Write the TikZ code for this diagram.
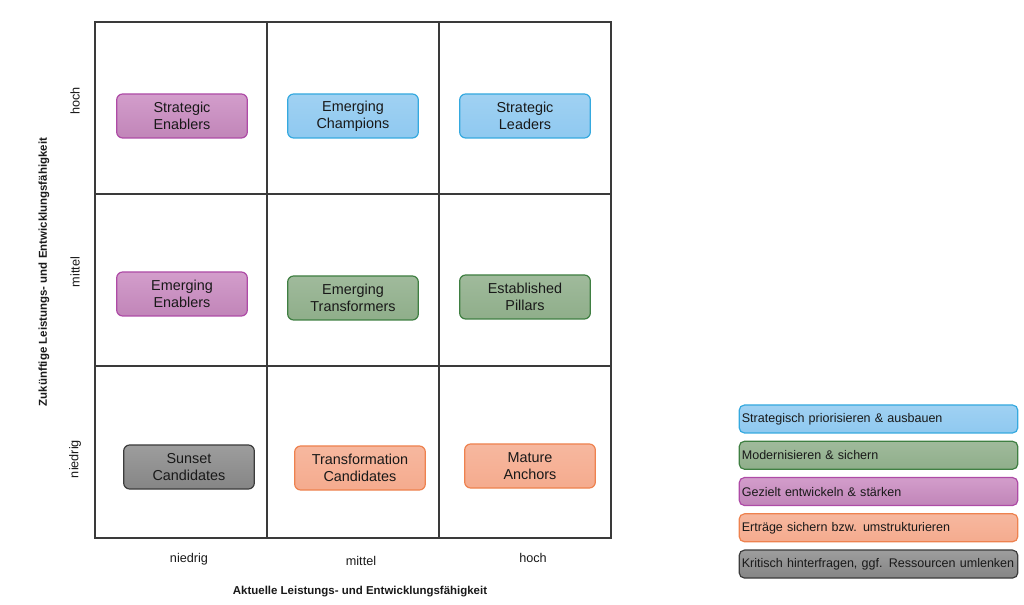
\documentclass[tikz,border=0pt]{standalone}
\usepackage{fontspec}
\setmainfont{Liberation Sans}
\usepackage{tikz}
\usetikzlibrary{positioning}
\definecolor{stratblue}{HTML}{8FC9F0}
\definecolor{stratblueline}{HTML}{35A9DF}
\definecolor{modgreen}{HTML}{8FAE8A}
\definecolor{modgreenline}{HTML}{3F7F42}
\definecolor{devpurple}{HTML}{CB8CC2}
\definecolor{devpurpleline}{HTML}{AE4BA6}
\definecolor{earnorange}{HTML}{F5AB8E}
\definecolor{earnorangeline}{HTML}{EE824F}
\definecolor{critgray}{HTML}{8C8C8C}
\definecolor{critgrayline}{HTML}{3C3C3C}
\definecolor{gridline}{HTML}{3A3A3A}
\tikzset{
    every node/.style={font=\fontsize{10.8}{12.5}\selectfont,text=black!90},
    field/.style={rounded corners=4.5pt,line width=0.9pt,minimum width=98pt,minimum height=33pt,align=center,inner sep=2pt},
    legend/.style={rounded corners=4pt,line width=0.9pt,minimum width=209pt,minimum height=21pt,inner sep=1.5pt,text width=205pt,align=left,font=\fontsize{9.4}{11}\selectfont},
    blueb/.style={draw=stratblueline,top color=stratblue!85!white,bottom color=stratblue},
    greenb/.style={draw=modgreenline,top color=modgreen!85!white,bottom color=modgreen},
    purpleb/.style={draw=devpurpleline,top color=devpurple!85!white,bottom color=devpurple!95!black},
    orangeb/.style={draw=earnorangeline,top color=earnorange!85!white,bottom color=earnorange},
    grayb/.style={draw=critgrayline,top color=critgray!85!white,bottom color=critgray!95!black},
    tick/.style={font=\fontsize{9.5}{11}\selectfont},
    axistitle/.style={font=\bfseries\fontsize{8.6}{10}\selectfont}
}
\begin{document}
\begin{tikzpicture}[x=0.75pt,y=-0.75pt]
\useasboundingbox (0,0) rectangle (1024,605);
% matrix grid
\draw[gridline,line width=1pt] (95,22) rectangle (611,538);
\foreach \x in {267,439}
    \draw[gridline,line width=1pt] (\x,22) -- (\x,538);
\foreach \y in {194,366}
    \draw[gridline,line width=1pt] (95,\y) -- (611,\y);

% fields
\node[field,purpleb] (stratenablers) at (182,116) {Strategic\\Enablers};
\node[field,blueb] (emchampions) at (353,116) {Emerging\\Champions};
\node[field,blueb] (stratleaders) at (525,116) {Strategic\\Leaders};
\node[field,purpleb] (emenablers) at (182,294) {Emerging\\Enablers};
\node[field,greenb] (emtransformers) at (353,298) {Emerging\\Transformers};
\node[field,greenb] (estpillars) at (525,297) {Established\\Pillars};
\node[field,grayb] (sunset) at (189,467) {Sunset\\Candidates};
\node[field,orangeb] (transcand) at (360,468) {Transformation\\Candidates};
\node[field,orangeb] (mature) at (530,466) {Mature\\Anchors};

% axes
\node[tick] (xlow) at (189,559) {niedrig};
\node[tick] (xmid) at (361,561) {mittel};
\node[tick] (xhigh) at (533,558) {hoch};
\node[axistitle] (xtitle) at (360,592) {Aktuelle Leistungs- und Entwicklungsfähigkeit};
\node[tick,rotate=90] (yhigh) at (75,101) {hoch};
\node[tick,rotate=90] (ymid) at (75,272) {mittel};
\node[tick,rotate=90] (ylow) at (75,459) {niedrig};
\node[axistitle,rotate=90] (ytitle) at (44,272) {Zukünftige Leistungs- und Entwicklungsfähigkeit};

% legend
\node[legend,blueb] (leg1) at (878.5,419) {Strategisch priorisieren \& ausbauen};
\node[legend,greenb,below=5.3pt of leg1] (leg2) {Modernisieren \& sichern};
\node[legend,purpleb,below=5.3pt of leg2] (leg3) {Gezielt entwickeln \& stärken};
\node[legend,orangeb,below=5.3pt of leg3] (leg4) {Erträge sichern bzw. umstrukturieren};
\node[legend,grayb,below=5.3pt of leg4] (leg5) {Kritisch hinterfragen, ggf. Ressourcen umlenken};
\end{tikzpicture}
\end{document}
